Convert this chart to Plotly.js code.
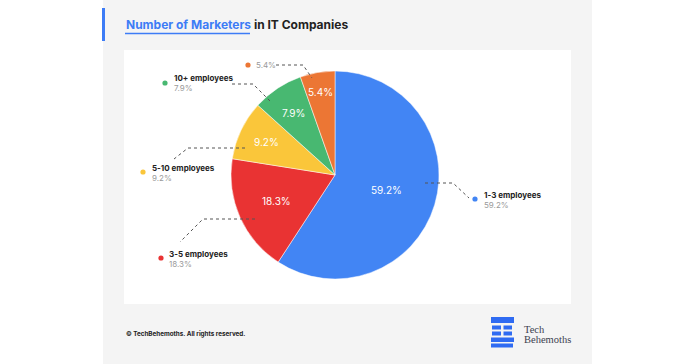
<!DOCTYPE html>
<html>
<head>
<meta charset="utf-8">
<script src="https://cdn.plot.ly/plotly-3.0.1.min.js"></script>
<style>html,body{margin:0;padding:0;background:#fff;}#chart{width:696px;height:364px;}</style>
</head>
<body>
<div id="chart"></div>
<script>
// ---- data ----
var categories = ['1-3 employees', '3-5 employees', '5-10 employees', '10+ employees', ''];
var values = [59.2, 18.3, 9.2, 7.9, 5.4];
var valueLabels = ['59.2%', '18.3%', '9.2%', '7.9%', '5.4%'];
var colors = ['#4285F4', '#E93333', '#FAC63A', '#48B871', '#EC7634'];

// ---- layout constants (pixels) ----
var W = 696, H = 364;
function px(x) { return x / W; }
function py(y) { return 1 - y / H; }
var CX = 335, CY = 175, R = 104;
var insideR = [0.52, 0.62, 0.73, 0.72, 0.81];
// outside legend-style labels: dot position, text position, leader path points
var callouts = [
  {dot: [475, 199], text: [482, 200], path: [[425, 183], [453, 183], [469, 198]]},
  {dot: [161, 258], text: [167, 259], path: [[255, 219], [203, 219], [180, 242]]},
  {dot: [143, 172], text: [150, 173], path: [[245, 148], [188, 148], [174, 159]]},
  {dot: [165, 83], text: [172, 83], path: [[232, 84], [253, 84], [272, 103]]},
  {dot: [248, 65], text: [254, 65], path: [[276, 65], [303, 65], [312, 78]]}
];

var shapes = [];
var annotations = [];
// background panel and card
shapes.push({type: 'rect', xref: 'paper', yref: 'paper', x0: px(103), x1: px(592), y0: py(364), y1: py(0), fillcolor: '#F4F4F4', line: {width: 0}, layer: 'below'});
shapes.push({type: 'rect', xref: 'paper', yref: 'paper', x0: px(124), x1: px(571), y0: py(304), y1: py(50), fillcolor: '#FFFFFF', line: {width: 0}, layer: 'below'});
// title accent bar and underline
shapes.push({type: 'rect', xref: 'paper', yref: 'paper', x0: px(102), x1: px(105), y0: py(41), y1: py(8), fillcolor: '#3D7CF6', line: {width: 0}});
shapes.push({type: 'line', xref: 'paper', yref: 'paper', x0: px(125), x1: px(250), y0: py(33.5), y1: py(33.5), line: {color: '#3D7CF6', width: 1.6}});

// title
annotations.push({xref: 'paper', yref: 'paper', x: px(124), y: py(25), xanchor: 'left', yanchor: 'middle', showarrow: false,
  text: '<b><span style="color:#3D7CF6">Number of Marketers</span> in IT Companies</b>',
  font: {family: 'Inter, Roboto, sans-serif', size: 12, color: '#222222'}});

// inside value labels, at mid-angle of each slice
var total = values.reduce(function (a, b) { return a + b; }, 0);
var cum = 0;
for (var i = 0; i < values.length; i++) {
  var mid = (cum + values[i] / 2) / total * 2 * Math.PI;
  cum += values[i];
  var lx = CX + insideR[i] * R * Math.sin(mid);
  var ly = CY - insideR[i] * R * Math.cos(mid);
  annotations.push({xref: 'paper', yref: 'paper', x: px(lx), y: py(ly), xanchor: 'center', yanchor: 'middle', showarrow: false,
    text: valueLabels[i], font: {family: 'Inter, Roboto, sans-serif', size: 10, color: '#FFFFFF'}});
}

// callouts
for (var j = 0; j < callouts.length; j++) {
  var c = callouts[j];
  var p = c.path;
  var d = 'M' + px(p[0][0]) + ',' + py(p[0][1]);
  for (var k = 1; k < p.length; k++) d += ' L' + px(p[k][0]) + ',' + py(p[k][1]);
  shapes.push({type: 'path', xref: 'paper', yref: 'paper', path: d, line: {color: '#555555', width: 1, dash: 'dot'}});
  var r = 2.6;
  shapes.push({type: 'circle', xref: 'paper', yref: 'paper', x0: px(c.dot[0] - r), x1: px(c.dot[0] + r), y0: py(c.dot[1] + r), y1: py(c.dot[1] - r), fillcolor: colors[j], line: {width: 0}});
  var txt = categories[j] ? ('<b>' + categories[j] + '</b><br><span style="color:#9A9A9A">' + valueLabels[j] + '</span>')
                          : ('<span style="color:#9A9A9A">' + valueLabels[j] + '</span>');
  annotations.push({xref: 'paper', yref: 'paper', x: px(c.text[0]), y: py(c.text[1]), xanchor: 'left', yanchor: 'middle', align: 'left', showarrow: false,
    text: txt, font: {family: 'Inter, Roboto, sans-serif', size: 8, color: '#222222'}});
}

// footer
annotations.push({xref: 'paper', yref: 'paper', x: px(124), y: py(334), xanchor: 'left', yanchor: 'middle', showarrow: false,
  text: '<b>© TechBehemoths. All rights reserved.</b>', font: {family: 'Inter, Roboto, sans-serif', size: 6.3, color: '#222222'}});
// logo
var logoRects = [
  [491, 317, 514, 323],
  [492, 325.5, 501, 329.5], [503.5, 325.5, 512, 329.5],
  [492, 331.5, 501, 335.5], [503.5, 331.5, 512, 335.5],
  [491, 337.5, 514, 342],
  [491, 343.5, 513, 347.5]
];
logoRects.forEach(function (b) {
  shapes.push({type: 'rect', xref: 'paper', yref: 'paper', x0: px(b[0]), x1: px(b[2]), y0: py(b[3]), y1: py(b[1]), fillcolor: '#2F6BF2', line: {width: 0}});
});
annotations.push({xref: 'paper', yref: 'paper', x: px(522), y: py(329), xanchor: 'left', yanchor: 'middle', align: 'left', showarrow: false,
  text: 'Tech', font: {family: 'Liberation Serif, DejaVu Serif, serif', size: 10.5, color: '#3C4150'}});
annotations.push({xref: 'paper', yref: 'paper', x: px(522), y: py(339), xanchor: 'left', yanchor: 'middle', align: 'left', showarrow: false,
  text: 'Behemoths', font: {family: 'Liberation Serif, DejaVu Serif, serif', size: 10.5, color: '#3C4150'}});

var trace = {
  type: 'pie',
  labels: categories.map(function (c, i) { return c || ('slice' + i); }),
  values: values,
  sort: false,
  direction: 'clockwise',
  rotation: 0,
  textinfo: 'none',
  hoverinfo: 'skip',
  marker: {colors: colors, line: {color: '#FFFFFF', width: 0.5}},
  domain: {x: [px(CX - R), px(CX + R)], y: [py(CY + R), py(CY - R)]},
  showlegend: false
};

var layout = {
  width: W, height: H,
  margin: {l: 0, r: 0, t: 0, b: 0},
  paper_bgcolor: '#FFFFFF',
  showlegend: false,
  shapes: shapes,
  annotations: annotations
};

Plotly.newPlot('chart', [trace], layout, {displayModeBar: false, staticPlot: true});
</script>
</body>
</html>
